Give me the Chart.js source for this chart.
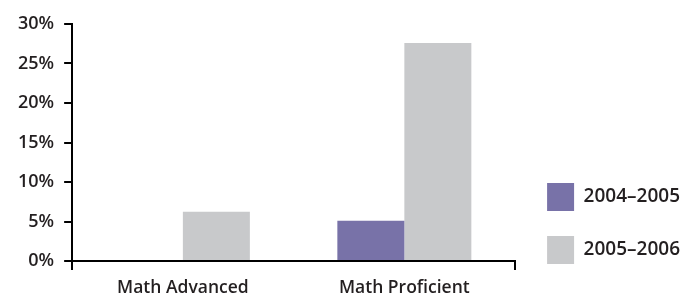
<!DOCTYPE html>
<html>
<head>
<meta charset="utf-8">
<script src="https://cdn.jsdelivr.net/npm/chart.js@4.4.1/dist/chart.umd.min.js"></script>
<style>
  html, body { margin: 0; padding: 0; background: #fff; }
  #wrap { width: 690px; height: 295px; }
</style>
</head>
<body>
<div id="wrap"><canvas id="chart"></canvas></div>
<script>
const categories = ['Math Advanced', 'Math Proficient'];
const seriesLabels = ['2004–2005', '2005–2006'];
const values2004 = [0, 5.1];
const values2005 = [6.25, 27.6];
const yTicks = [0, 5, 10, 15, 20, 25, 30];

const font = { family: '"Open Sans", sans-serif', size: 17.5, weight: '600' };
const textColor = '#231f20';

// move the legend a little up and to the right
const legendNudge = {
    id: 'legendNudge',
    afterLayout(chart) {
        chart.legend.top -= 6;
        chart.legend.bottom -= 6;
        chart.legend.left += 7;
        chart.legend.right += 7;
    },
};

new Chart(document.getElementById('chart'), {
    type: 'bar',
    data: {
        labels: categories,
        datasets: [
            {
                label: seriesLabels[0],
                data: values2004,
                backgroundColor: '#7872a8',
            },
            {
                label: seriesLabels[1],
                data: values2005,
                backgroundColor: '#c8c9cb',
            },
        ],
    },
    plugins: [legendNudge],
    options: {
        responsive: true,
        maintainAspectRatio: false,
        animation: false,
        layout: { padding: { top: 24, left: 8, right: 7, bottom: 0 } },
        datasets: {
            bar: { categoryPercentage: 0.605, barPercentage: 1 },
        },
        plugins: {
            tooltip: { enabled: false },
            legend: {
                position: 'right',
                align: 'end',
                labels: {
                    boxWidth: 27,
                    boxHeight: 28,
                    padding: 25,
                    color: textColor,
                    font: { ...font, size: 19 },
                },
            },
        },
        scales: {
            x: {
                afterFit: (axis) => {
                    axis.height = 34;
                },
                grid: {
                    drawOnChartArea: false,
                    tickLength: 9,
                    lineWidth: 2,
                    color: (ctx) => (ctx.index === 1 ? 'rgba(0,0,0,0)' : '#000'),
                },
                border: { color: '#000', width: 2 },
                ticks: { color: textColor, font, padding: 8 },
            },
            y: {
                min: 0,
                max: 30,
                afterBuildTicks: (axis) => {
                    axis.ticks = yTicks.map((v) => ({ value: v }));
                },
                grid: {
                    drawOnChartArea: false,
                    tickLength: 8,
                    lineWidth: 2,
                    color: '#000',
                },
                border: { color: '#000', width: 2 },
                ticks: {
                    color: textColor,
                    font: { ...font, size: 18 },
                    padding: 10,
                    callback: (v) => v + '%',
                },
            },
        },
    },
});
</script>
</body>
</html>
